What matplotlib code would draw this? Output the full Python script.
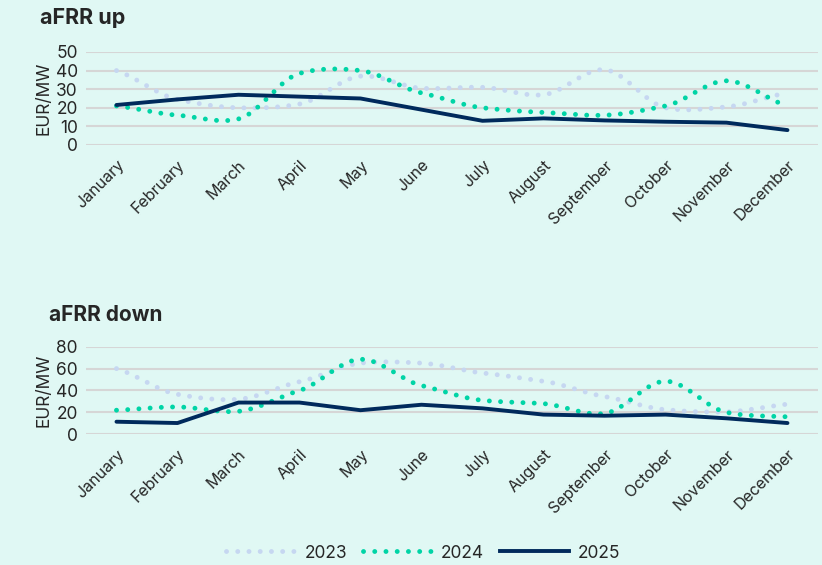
import numpy as np
import matplotlib.pyplot as plt
from matplotlib.lines import Line2D

months = ["January", "February", "March", "April", "May", "June", "July",
          "August", "September", "October", "November", "December"]

up_2023 = [40, 24.5, 20, 22, 37, 30.5, 31, 27, 40.5, 20, 20.5, 28]
up_2024 = [21, 16, 14, 38.5, 40, 28, 20, 17.5, 16, 21, 34.5, 21]
up_2025 = [21.5, 24.5, 27, 26, 25, 19, 13, 14.3, 13.2, 12.5, 12, 8]

down_2023 = [60, 36.5, 32, 48, 65, 65, 56, 48.5, 34.5, 22.5, 20.5, 27.5]
down_2024 = [22, 25, 21, 40, 68.5, 44.5, 31, 28, 19, 48.5, 20, 16]
down_2025 = [11.5, 10.3, 29, 29, 22, 27, 23.7, 18, 17, 18, 14.6, 10.3]

BG = "#E0F8F4"
C23 = "#C6D7F1"
C24 = "#00D4A6"
C25 = "#002A5C"
GRID = "#D6D6D6"
TXT = "#262626"

plt.rcParams["font.family"] = ["Inter", "DejaVu Sans"]


def smooth(y, n=20, k=0.7):
    # hermite spline with damped tangents, close to excel's "smoothed line"
    y = np.asarray(y, dtype=float)
    p = np.concatenate([[2 * y[0] - y[1]], y, [2 * y[-1] - y[-2]]])
    m = k * (p[2:] - p[:-2]) / 2
    xs, ys = [], []
    t = np.linspace(0, 1, n, endpoint=False)
    h00 = 2 * t ** 3 - 3 * t ** 2 + 1
    h10 = t ** 3 - 2 * t ** 2 + t
    h01 = -2 * t ** 3 + 3 * t ** 2
    h11 = t ** 3 - t ** 2
    for i in range(len(y) - 1):
        xs.append(i + t)
        ys.append(h00 * y[i] + h10 * m[i] + h01 * y[i + 1] + h11 * m[i + 1])
    xs.append([len(y) - 1])
    ys.append([y[-1]])
    return np.concatenate(xs), np.concatenate(ys)


dot = dict(linestyle=(0, (0.01, 2.3)), linewidth=3.5,
           dash_capstyle="round", solid_capstyle="round")

fig = plt.figure(figsize=(8.22, 5.65), dpi=100)
fig.patch.set_facecolor(BG)

ax1 = fig.add_axes([0.1046, 0.7434, 0.8905, 0.1646])
ax2 = fig.add_axes([0.1046, 0.2313, 0.8905, 0.1551])


def draw(ax, d23, d24, d25, ymax, step):
    ax.set_facecolor(BG)
    x = np.arange(len(months))
    ax.plot(*smooth(d23), color=C23, **dot)
    ax.plot(*smooth(d24), color=C24, **dot)
    ax.plot(x, d25, color=C25, linewidth=2.8, solid_joinstyle="round",
            solid_capstyle="round")
    ax.set_xlim(-0.5, 11.5)
    ax.set_ylim(0, ymax)
    ax.set_yticks(np.arange(0, ymax + 1, step))
    ax.grid(axis="y", color=GRID, linewidth=1.5)
    ax.set_axisbelow(True)
    for s in ax.spines.values():
        s.set_visible(False)
    ax.tick_params(axis="both", length=0, labelsize=12.5, colors=TXT)
    ax.tick_params(axis="y", pad=6)
    ax.set_xticks(x)
    ax.set_xticklabels(months, rotation=45, ha="right", rotation_mode="anchor",
                       fontsize=11.5, color=TXT)
    ax.tick_params(axis="x", pad=9)
    ax.set_ylabel("EUR/MW", fontsize=12.5, color=TXT, labelpad=2)


draw(ax1, up_2023, up_2024, up_2025, 50, 10)
draw(ax2, down_2023, down_2024, down_2025, 80, 20)

fig.text(40 / 822, 1 - 18 / 565, "aFRR up", fontsize=15.5, fontweight="bold",
         color=TXT, va="center", ha="left")
fig.text(49 / 822, 1 - 315 / 565, "aFRR down", fontsize=15, fontweight="bold",
         color=TXT, va="center", ha="left")

handles = [
    Line2D([], [], color=C23, **dot),
    Line2D([], [], color=C24, **dot),
    Line2D([], [], color=C25, linewidth=2.8),
]
fig.legend(handles, ["2023", "2024", "2025"], loc="center",
           bbox_to_anchor=(0.515, 1 - 553 / 565), ncol=3, frameon=False,
           fontsize=12.5, handlelength=4.0, columnspacing=0.9, handletextpad=0.5,
           labelcolor=TXT)

fig.savefig("out.png", dpi=100, facecolor=BG)
